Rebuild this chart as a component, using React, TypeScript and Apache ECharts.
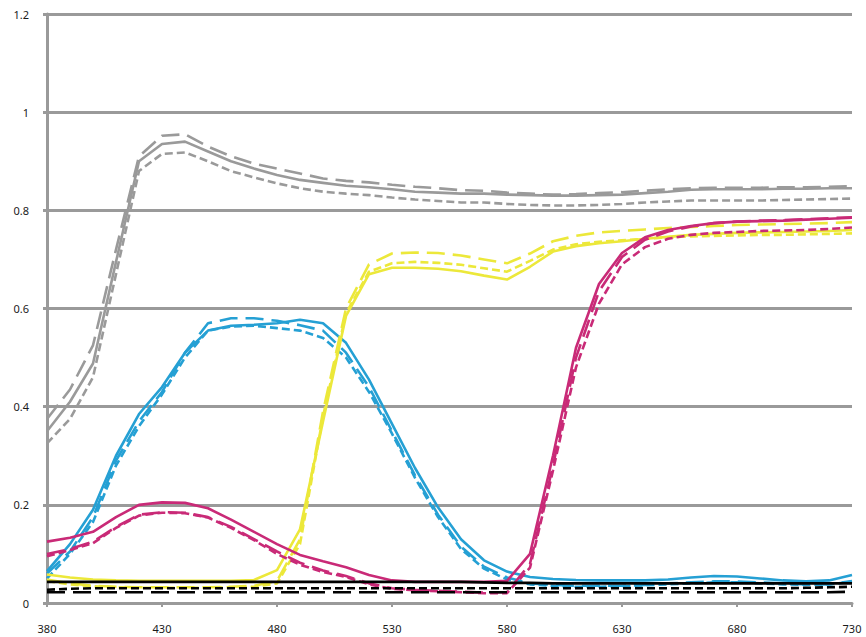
import React, { useEffect, useRef } from "react";
import * as echarts from "echarts";

const wavelengths = [380, 390, 400, 410, 420, 430, 440, 450, 460, 470, 480, 490, 500, 510, 520, 530, 540, 550, 560, 570, 580, 590, 600, 610, 620, 630, 640, 650, 660, 670, 680, 690, 700, 710, 720, 730];
const yTicks = [0, 0.2, 0.4, 0.6, 0.8, 1, 1.2];

const graySolid = [0.35, 0.41, 0.488, 0.695, 0.9, 0.935, 0.94, 0.92, 0.9, 0.885, 0.872, 0.862, 0.856, 0.85, 0.847, 0.843, 0.838, 0.836, 0.834, 0.834, 0.832, 0.831, 0.83, 0.83, 0.831, 0.832, 0.835, 0.838, 0.842, 0.843, 0.843, 0.843, 0.844, 0.844, 0.845, 0.845];
const grayLong = [0.375, 0.435, 0.525, 0.72, 0.91, 0.952, 0.955, 0.93, 0.91, 0.895, 0.885, 0.875, 0.865, 0.86, 0.857, 0.852, 0.848, 0.845, 0.841, 0.84, 0.836, 0.834, 0.832, 0.833, 0.835, 0.837, 0.84, 0.843, 0.845, 0.846, 0.846, 0.846, 0.847, 0.847, 0.848, 0.849];
const grayShort = [0.325, 0.375, 0.46, 0.67, 0.88, 0.915, 0.918, 0.9, 0.88, 0.867, 0.855, 0.845, 0.838, 0.834, 0.831, 0.826, 0.822, 0.819, 0.816, 0.816, 0.813, 0.811, 0.81, 0.81, 0.811, 0.813, 0.816, 0.818, 0.82, 0.82, 0.82, 0.82, 0.821, 0.822, 0.823, 0.824];

const blueSolid = [0.065, 0.12, 0.19, 0.3, 0.385, 0.44, 0.51, 0.555, 0.565, 0.567, 0.57, 0.577, 0.57, 0.53, 0.455, 0.365, 0.275, 0.195, 0.13, 0.087, 0.064, 0.053, 0.049, 0.047, 0.046, 0.046, 0.046, 0.048, 0.052, 0.055, 0.054, 0.05, 0.046, 0.044, 0.046, 0.057];
const blueLong = [0.06, 0.105, 0.175, 0.29, 0.37, 0.43, 0.51, 0.57, 0.58, 0.58, 0.575, 0.566, 0.555, 0.51, 0.44, 0.35, 0.26, 0.18, 0.115, 0.074, 0.052, 0.04, 0.037, 0.035, 0.035, 0.035, 0.037, 0.04, 0.042, 0.044, 0.044, 0.042, 0.04, 0.038, 0.038, 0.045];
const blueShort = [0.05, 0.1, 0.165, 0.28, 0.36, 0.425, 0.5, 0.555, 0.563, 0.565, 0.56, 0.555, 0.54, 0.5, 0.43, 0.345, 0.255, 0.175, 0.11, 0.07, 0.048, 0.038, 0.035, 0.033, 0.033, 0.034, 0.036, 0.038, 0.04, 0.042, 0.042, 0.04, 0.038, 0.037, 0.038, 0.043];

const yellowSolid = [0.058, 0.052, 0.048, 0.046, 0.045, 0.045, 0.045, 0.045, 0.045, 0.047, 0.067, 0.15, 0.37, 0.585, 0.67, 0.683, 0.683, 0.681, 0.676, 0.667, 0.659, 0.685, 0.716, 0.727, 0.733, 0.737, 0.742, 0.746, 0.75, 0.752, 0.754, 0.755, 0.756, 0.757, 0.758, 0.76];
const yellowLong = [0.048, 0.04, 0.035, 0.033, 0.032, 0.032, 0.032, 0.032, 0.033, 0.035, 0.045, 0.13, 0.39, 0.6, 0.69, 0.712, 0.714, 0.713, 0.708, 0.7, 0.692, 0.712, 0.737, 0.748, 0.755, 0.758, 0.761, 0.764, 0.766, 0.768, 0.77, 0.771, 0.772, 0.773, 0.774, 0.776];
const yellowShort = [0.045, 0.038, 0.034, 0.032, 0.031, 0.031, 0.031, 0.031, 0.032, 0.033, 0.04, 0.12, 0.38, 0.59, 0.675, 0.692, 0.695, 0.693, 0.689, 0.682, 0.675, 0.697, 0.72, 0.731, 0.736, 0.739, 0.742, 0.745, 0.747, 0.748, 0.749, 0.75, 0.75, 0.751, 0.752, 0.753];

const magentaSolid = [0.125, 0.133, 0.145, 0.175, 0.2, 0.205, 0.204, 0.193, 0.17, 0.145, 0.12, 0.098, 0.085, 0.073, 0.057, 0.046, 0.043, 0.043, 0.043, 0.043, 0.045, 0.1, 0.3, 0.52, 0.65, 0.713, 0.745, 0.76, 0.768, 0.774, 0.777, 0.778, 0.779, 0.781, 0.783, 0.785];
const magentaLong = [0.1, 0.11, 0.125, 0.155, 0.18, 0.185, 0.184, 0.175, 0.155, 0.13, 0.105, 0.082, 0.066, 0.055, 0.04, 0.03, 0.027, 0.025, 0.023, 0.021, 0.022, 0.08, 0.28, 0.5, 0.635, 0.705, 0.74, 0.757, 0.767, 0.774, 0.777, 0.779, 0.78, 0.782, 0.784, 0.786];
const magentaShort = [0.095, 0.108, 0.122, 0.153, 0.178, 0.184, 0.183, 0.174, 0.153, 0.128, 0.1, 0.078, 0.063, 0.053, 0.038, 0.029, 0.026, 0.024, 0.022, 0.02, 0.02, 0.072, 0.27, 0.48, 0.61, 0.69, 0.725, 0.742, 0.75, 0.754, 0.756, 0.758, 0.759, 0.76, 0.762, 0.765];

const blackSolid = [0.043, 0.043, 0.043, 0.043, 0.043, 0.043, 0.043, 0.043, 0.043, 0.043, 0.043, 0.043, 0.043, 0.043, 0.043, 0.043, 0.043, 0.043, 0.043, 0.042, 0.041, 0.041, 0.04, 0.04, 0.04, 0.04, 0.04, 0.04, 0.04, 0.04, 0.04, 0.04, 0.04, 0.04, 0.04, 0.04];
const blackLong = [0.022, 0.022, 0.022, 0.022, 0.022, 0.022, 0.022, 0.022, 0.022, 0.022, 0.022, 0.022, 0.022, 0.022, 0.022, 0.022, 0.022, 0.022, 0.022, 0.022, 0.022, 0.022, 0.022, 0.022, 0.022, 0.022, 0.022, 0.022, 0.022, 0.022, 0.022, 0.022, 0.022, 0.022, 0.022, 0.023];
const blackShort = [0.027, 0.029, 0.03, 0.03, 0.03, 0.03, 0.03, 0.03, 0.03, 0.03, 0.03, 0.03, 0.03, 0.03, 0.03, 0.03, 0.03, 0.03, 0.03, 0.03, 0.03, 0.03, 0.03, 0.03, 0.03, 0.03, 0.03, 0.03, 0.03, 0.03, 0.03, 0.03, 0.03, 0.031, 0.032, 0.033];

const GRAY = "#9a9a9a";
const BLUE = "#25a0d4";
const YELLOW = "#ece83a";
const MAGENTA = "#c92a77";
const BLACK = "#000000";

const LONG = [18, 8];
const SHORT = [8, 4];

export default function App() {
  const ref = useRef<HTMLDivElement>(null);
  useEffect(() => {
    if (!ref.current) return;
    const chart = echarts.init(ref.current, undefined, { renderer: "svg" });
    const mk = (name: string, data: number[], color: string, type: any, width = 2.6) => ({
      name,
      type: "line",
      data,
      symbol: "none",
      smooth: false,
      lineStyle: { color, width, type, cap: "butt" },
      itemStyle: { color },
    });
    chart.setOption({
      animation: false,
      backgroundColor: "#ffffff",
      grid: { left: 47, right: 14, top: 14, bottom: 34, containLabel: false },
      xAxis: {
        type: "category",
        data: wavelengths.map(String),
        boundaryGap: false,
        axisLine: { show: true, lineStyle: { color: GRAY, width: 3 } },
        axisTick: { show: true, interval: 4, length: 4, lineStyle: { color: GRAY, width: 2 } },
        axisLabel: { interval: 4, margin: 20, fontSize: 11, color: "#1a1a1a", fontFamily: "Noto Sans" },
        splitLine: { show: false },
      },
      yAxis: {
        type: "value",
        min: yTicks[0],
        max: yTicks[yTicks.length - 1],
        interval: 0.2,
        axisLine: { show: true, lineStyle: { color: GRAY, width: 3 } },
        axisTick: { show: true, length: 4, lineStyle: { color: GRAY, width: 3 } },
        axisLabel: { margin: 18, fontSize: 11, color: "#1a1a1a", fontFamily: "Noto Sans", formatter: (v: number) => String(Math.round(v * 10) / 10) },
        splitLine: { show: true, lineStyle: { color: GRAY, width: 3 } },
      },
      series: [
        mk("gray", graySolid, GRAY, "solid"),
        mk("gray long", grayLong, GRAY, LONG),
        mk("gray short", grayShort, GRAY, SHORT),
        mk("blue", blueSolid, BLUE, "solid"),
        mk("blue long", blueLong, BLUE, LONG),
        mk("blue short", blueShort, BLUE, SHORT),
        mk("yellow", yellowSolid, YELLOW, "solid"),
        mk("yellow long", yellowLong, YELLOW, LONG),
        mk("yellow short", yellowShort, YELLOW, SHORT),
        mk("magenta", magentaSolid, MAGENTA, "solid"),
        mk("magenta long", magentaLong, MAGENTA, LONG),
        mk("magenta short", magentaShort, MAGENTA, SHORT),
        mk("black", blackSolid, BLACK, "solid"),
        mk("black long", blackLong, BLACK, LONG),
        mk("black short", blackShort, BLACK, SHORT),
      ],
    });
    return () => chart.dispose();
  }, []);
  return <div ref={ref} style={{ width: 866, height: 637, position: "absolute", left: 0, top: 0 }} />;
}
